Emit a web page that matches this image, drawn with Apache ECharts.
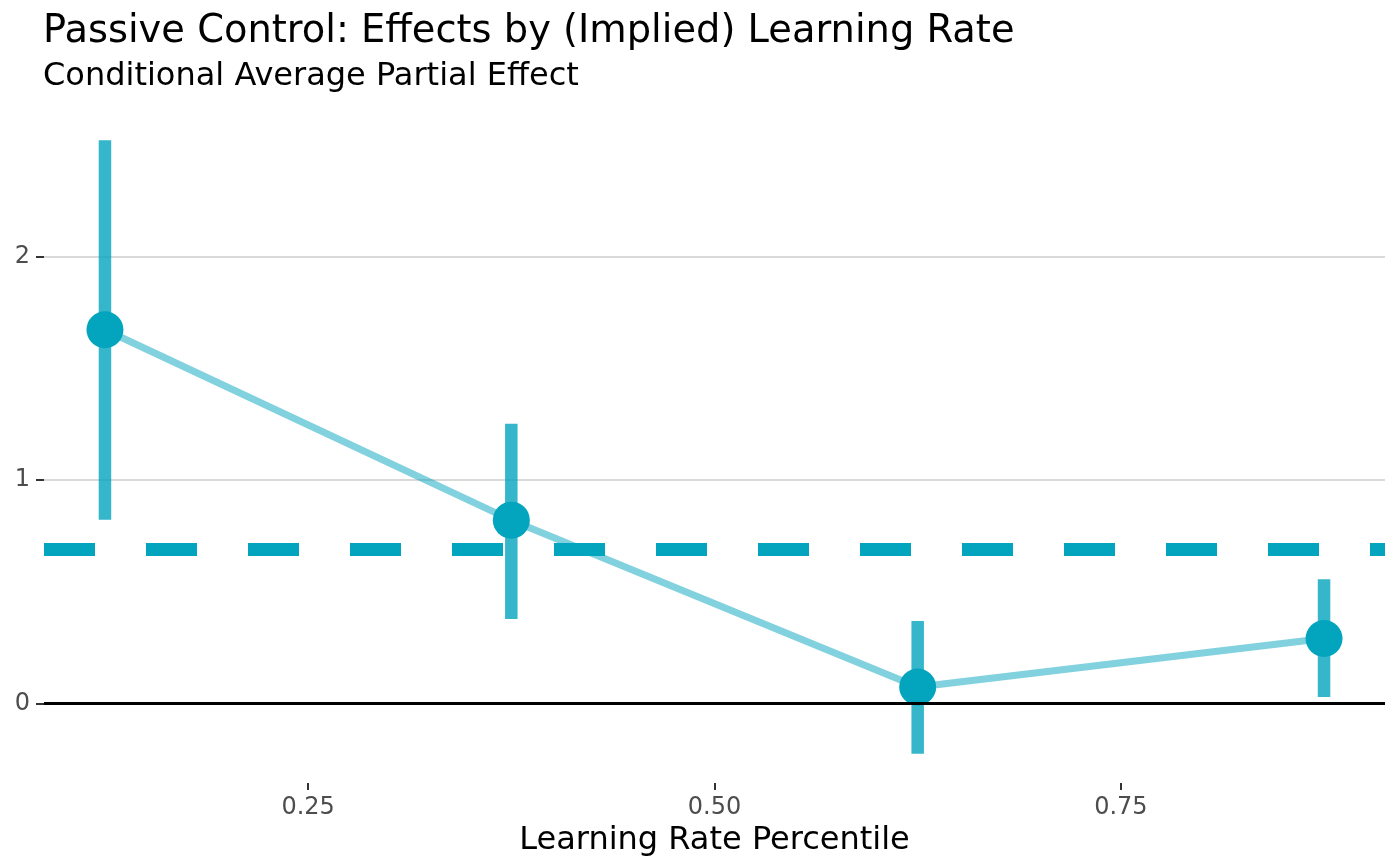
<!DOCTYPE html>
<html>
<head>
<meta charset="utf-8">
<script src="https://cdn.jsdelivr.net/npm/echarts@6/dist/echarts.min.js"></script>
<style>
html,body{margin:0;padding:0;background:#fff;}
#c{width:1400px;height:865px;}
</style>
</head>
<body>
<div id="c"></div>
<script>
const percentiles = [0.125, 0.375, 0.625, 0.875];
const effects = [1.673, 0.820, 0.073, 0.290];
const lower = [0.822, 0.378, -0.226, 0.028];
const upper = [2.522, 1.252, 0.368, 0.555];
const overallEffect = 0.69;
const xTicks = [0.25, 0.50, 0.75];
const yTicks = [0, 1, 2];
const gridValues = [1, 2];

const FONT = 'DejaVu Sans';
const col = '#03A4BE';

const chart = echarts.init(document.getElementById('c'), null, {renderer: 'canvas'});
const option = {
  backgroundColor: '#ffffff',
  animation: false,
  title: [
    {text: 'Passive Control: Effects by (Implied) Learning Rate', left: 43, top: 13, padding: 0,
     textStyle: {fontFamily: FONT, fontSize: 38.4, fontWeight: 'normal', color: '#000'}},
    {text: 'Conditional Average Partial Effect', left: 43, top: 61, padding: 0,
     textStyle: {fontFamily: FONT, fontSize: 32, fontWeight: 'normal', color: '#000'}}
  ],
  grid: {left: 44, right: 15, top: 110, bottom: 82, containLabel: false},
  xAxis: {
    type: 'value', min: 0.0875, max: 0.9125,
    name: 'Learning Rate Percentile', nameLocation: 'middle', nameGap: 36,
    nameTextStyle: {fontFamily: FONT, fontSize: 32, color: '#000'},
    axisLine: {show: false, onZero: false},
    axisTick: {show: true, customValues: xTicks, length: 7, inside: false, lineStyle: {color: '#333', width: 2}},
    axisLabel: {customValues: xTicks, fontFamily: FONT, fontSize: 24, color: '#4d4d4d', margin: 13,
      formatter: v => v.toFixed(2)},
    splitLine: {show: false}
  },
  yAxis: {
    type: 'value', min: -0.357, max: 2.657,
    axisLine: {show: false, onZero: false},
    axisTick: {show: true, customValues: yTicks, length: 8, inside: false, lineStyle: {color: '#333', width: 2}},
    axisLabel: {customValues: yTicks, fontFamily: FONT, fontSize: 24, color: '#4d4d4d', margin: 14,
      formatter: v => String(v)},
    splitLine: {show: false}
  },
  series: [
    {
      type: 'line', data: [], z: 1, silent: true,
      markLine: {
        silent: true, symbol: 'none', label: {show: false}, z: 1,
        lineStyle: {color: '#d9d9d9', width: 2, type: 'solid'},
        data: gridValues.map(v => ({yAxis: v}))
      }
    },
    {
      type: 'custom', z: 2, silent: true,
      data: percentiles.map((p, i) => [p, lower[i], upper[i]]),
      renderItem: function (params, api) {
        const a = api.coord([api.value(0), api.value(1)]);
        const b = api.coord([api.value(0), api.value(2)]);
        const w = 12.5;
        return {
          type: 'rect',
          shape: {x: a[0] - w / 2, y: b[1], width: w, height: a[1] - b[1]},
          style: {fill: 'rgba(3,164,190,0.8)'}
        };
      }
    },
    {
      type: 'line', z: 3, silent: true,
      data: percentiles.map((p, i) => [p, effects[i]]),
      showSymbol: false, symbol: 'none',
      lineStyle: {color: 'rgba(3,164,190,0.5)', width: 7}
    },
    {
      type: 'scatter', z: 4, silent: true,
      data: percentiles.map((p, i) => [p, effects[i]]),
      symbol: 'circle', symbolSize: 37,
      itemStyle: {color: col, opacity: 1}
    },
    {
      type: 'line', data: [], z: 5, silent: true,
      markLine: {
        silent: true, symbol: 'none', label: {show: false},
        data: [
          {yAxis: 0, lineStyle: {color: '#000', width: 2.8, type: 'solid'}},
          {yAxis: overallEffect, lineStyle: {color: col, width: 13, type: [51, 51], cap: 'butt'}}
        ]
      }
    }
  ]
};
chart.setOption(option);
</script>
</body>
</html>
